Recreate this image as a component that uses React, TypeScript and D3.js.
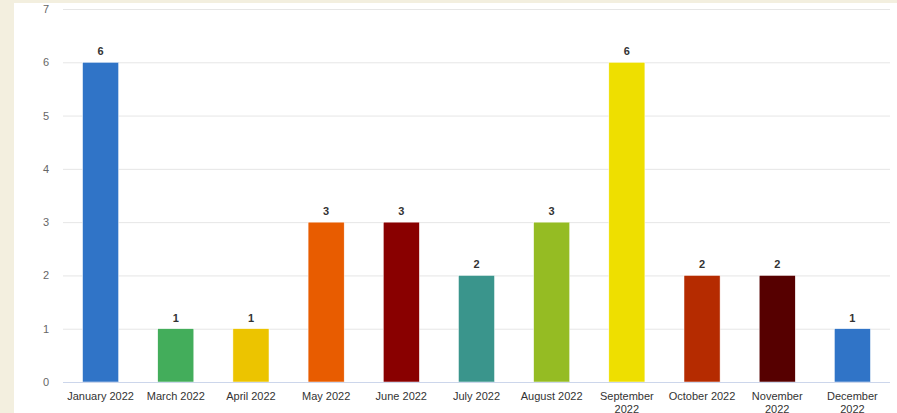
import React, { useEffect, useRef } from "react";
import * as d3 from "d3";

const categories = [
  "January 2022", "March 2022", "April 2022", "May 2022", "June 2022", "July 2022",
  "August 2022", "September 2022", "October 2022", "November 2022", "December 2022",
];
const values = [6, 1, 1, 3, 3, 2, 3, 6, 2, 2, 1];
const colors = [
  "#3074c7", "#43ad5b", "#ecc400", "#e85c00", "#890000", "#3a958c",
  "#95bc23", "#eedf00", "#b52b00", "#560000", "#3074c7",
];
const yTicks = [0, 1, 2, 3, 4, 5, 6, 7];

const W = 897, H = 413;

export default function App() {
  const ref = useRef<SVGSVGElement>(null);
  useEffect(() => {
    const svg = d3.select(ref.current);
    svg.selectAll("*").remove();
    const font = "'Liberation Sans', Arial, sans-serif";
    svg.append("rect").attr("width", W).attr("height", H).attr("fill", "#f3efdf");
    svg.append("rect").attr("x", 14).attr("y", 3).attr("width", W - 14).attr("height", H - 3).attr("fill", "#ffffff");

    const left = 63, right = 890, top = 9, bottom = 382;
    const x = d3.scaleBand<string>().domain(categories).range([left, right]).paddingInner(0.52).paddingOuter(0.26);
    const y = d3.scaleLinear().domain([0, 7]).range([bottom, top]);

    const grid = svg.append("g");
    yTicks.forEach((t) => {
      if (t === 0) return;
      grid.append("line").attr("x1", left).attr("x2", right).attr("y1", y(t) + 0.5).attr("y2", y(t) + 0.5)
        .attr("stroke", "#e6e6e6").attr("stroke-width", 1);
    });
    yTicks.forEach((t) => {
      svg.append("text").attr("x", 49).attr("y", y(t) + 4).attr("text-anchor", "end")
        .attr("font-family", font).attr("font-size", 11).attr("fill", "#666666").text(String(t));
    });

    svg.selectAll("rect.bar").data(values).enter().append("rect").attr("class", "bar")
      .attr("x", (_d, i) => x(categories[i])!)
      .attr("width", x.bandwidth())
      .attr("y", (d) => y(d))
      .attr("height", (d) => bottom - y(d))
      .attr("fill", (_d, i) => colors[i])
      .attr("stroke", "#ffffff").attr("stroke-width", 0.5);

    svg.selectAll("text.dl").data(values).enter().append("text").attr("class", "dl")
      .attr("x", (_d, i) => x(categories[i])! + x.bandwidth() / 2)
      .attr("y", (d) => y(d) - 7)
      .attr("text-anchor", "middle").attr("font-family", font).attr("font-size", 11)
      .attr("font-weight", "bold").attr("fill", "#333333").text((d) => String(d));

    svg.append("line").attr("x1", left).attr("x2", right).attr("y1", bottom + 0.5).attr("y2", bottom + 0.5)
      .attr("stroke", "#ccd6eb").attr("stroke-width", 1);

    categories.forEach((c) => {
      const cx = x(c)! + x.bandwidth() / 2;
      const lines = c.length > 12 ? c.split(" ") : [c];
      const t = svg.append("text").attr("x", cx).attr("y", 400).attr("text-anchor", "middle")
        .attr("font-family", font).attr("font-size", 11).attr("fill", "#333333");
      lines.forEach((l, i) => {
        t.append("tspan").attr("x", cx).attr("dy", i === 0 ? 0 : 13).text(l);
      });
    });
  }, []);
  return (
    <div style={{ position: "fixed", left: 0, top: 0 }}>
      <svg ref={ref} width={W} height={H} style={{ display: "block" }} />
    </div>
  );
}
